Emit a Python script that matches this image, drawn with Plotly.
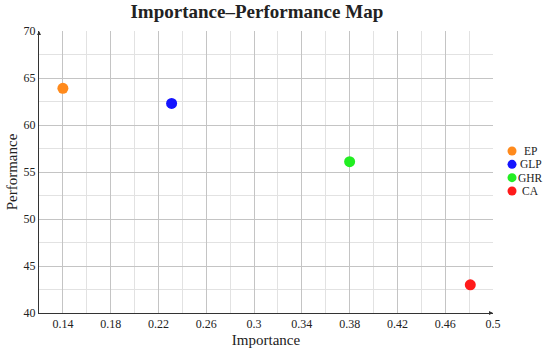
import plotly.graph_objects as go

names = ["EP", "GLP", "GHR", "CA"]
importance = [0.14, 0.231, 0.38, 0.481]
performance = [63.9, 62.3, 56.1, 43.0]
colors = ["#ff8a1c", "#1414ff", "#22ee22", "#ff1a1a"]

x_ticks = [0.14, 0.18, 0.22, 0.26, 0.3, 0.34, 0.38, 0.42, 0.46, 0.5]
x_tick_labels = ["0.14", "0.18", "0.22", "0.26", "0.3", "0.34", "0.38", "0.42", "0.46", "0.5"]
y_ticks = [40, 45, 50, 55, 60, 65, 70]

FONT = "Liberation Serif, DejaVu Serif, serif"

fig = go.Figure()
for n, xv, yv, c in zip(names, importance, performance, colors):
    fig.add_trace(go.Scatter(x=[xv], y=[yv], mode="markers", name=n, showlegend=False,
                             marker=dict(color=c, size=11, line=dict(width=0))))

fig.update_layout(
    width=550, height=353,
    margin=dict(l=39, r=57, t=31, b=40, autoexpand=False),
    paper_bgcolor="white", plot_bgcolor="white",
    font=dict(family=FONT, size=12, color="#222"),
    title=dict(text="<b>Importance–Performance Map</b>", x=0.467, xanchor="center",
               y=0.968, yanchor="middle", font=dict(family=FONT, size=19, color="#222")),
    xaxis=dict(range=[0.12, 0.5], tickvals=x_ticks, ticktext=x_tick_labels,
               showgrid=True, gridcolor="#c4c4c4", gridwidth=1,
               minor=dict(dtick=0.02, tick0=0.12, showgrid=True, gridcolor="#e2e2e2", gridwidth=1),
               showline=True, linecolor="#333", linewidth=1, zeroline=False,
               ticks="", tickfont=dict(size=12), automargin=False,
               title=dict(text="Importance", font=dict(size=15), standoff=4)),
    yaxis=dict(range=[40, 70], tickvals=y_ticks,
               showgrid=True, gridcolor="#c4c4c4", gridwidth=1,
               minor=dict(dtick=2.5, tick0=40, showgrid=True, gridcolor="#e2e2e2", gridwidth=1),
               showline=True, linecolor="#333", linewidth=1, zeroline=False,
               ticks="", tickfont=dict(size=12), automargin=False,
               title=dict(text="Performance", font=dict(size=15), standoff=2)),
)

# axis-end arrowheads
fig.add_annotation(x=0, y=1, xref="paper", yref="paper", ax=0, ay=4, axref="pixel", ayref="pixel",
                   text="", showarrow=True, arrowhead=2, arrowsize=0.8, arrowwidth=1, arrowcolor="#333")
fig.add_annotation(x=1, y=0, xref="paper", yref="paper", ax=-4, ay=0, axref="pixel", ayref="pixel",
                   text="", showarrow=True, arrowhead=2, arrowsize=0.8, arrowwidth=1, arrowcolor="#333")

# compact legend on the right
leg_center = 0.5035
leg_step = 0.0472
n_items = len(names)
for i, (n, c) in enumerate(zip(names, colors)):
    yy = leg_center + ((n_items - 1) / 2 - i) * leg_step
    fig.add_shape(type="circle", xref="paper", yref="paper", xsizemode="pixel", ysizemode="pixel",
                  xanchor=1.0419, yanchor=yy, x0=-4.5, x1=4.5, y0=-4.5, y1=4.5,
                  fillcolor=c, line=dict(width=0))
    fig.add_annotation(x=1.0837, y=yy, xref="paper", yref="paper", text=n, showarrow=False,
                       xanchor="center", yanchor="middle", borderpad=0,
                       font=dict(family=FONT, size=11.5, color="#222"))

fig.write_html("out.html", config={"displayModeBar": False},
               post_script="document.body.style.margin='0';")
